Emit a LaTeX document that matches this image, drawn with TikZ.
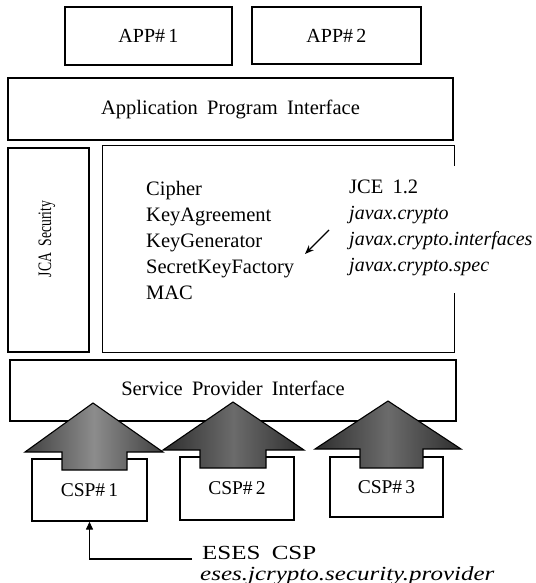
\documentclass[tikz,border=0pt]{standalone}
\usepackage{fontspec}
\usepackage{graphicx}
\setmainfont{Liberation Serif}[WordSpace=1.8]
\usetikzlibrary{arrows.meta}
\newcommand\myfs[1]{\fontsize{#1}{#1}\selectfont}
\begin{document}
\begin{tikzpicture}[x=1pt,y=-1pt,
  box/.style={draw, line width=1.3pt, inner sep=0pt, font=\myfs{20}},
  lbl/.style={inner sep=0pt, anchor=base west, font=\myfs{20.5}},
  ilbl/.style={inner sep=0pt, anchor=base west, font=\myfs{20}\itshape},
  house/.style={draw, line width=1.1pt, line join=miter, left color=black!82, right color=black!82, middle color=black!58},
  houselight/.style={house, left color=black!75, right color=black!75, middle color=black!45},
  conn/.style={line width=1.3pt, -{Stealth[length=9pt,width=7pt]}},
  eses/.style={inner sep=0pt, anchor=base west, font=\myfs{20}}]
\useasboundingbox (0,0) rectangle (535,583);

% top boxes
\node[box, minimum width=167pt, minimum height=58pt] (app1) at (148.5,36) {APP\#\,1};
\node[box, minimum width=169pt, minimum height=57pt] (app2) at (336.5,35.5) {APP\#\,2};
\node[box, minimum width=445pt, minimum height=62pt, font=\myfs{20.5}] (api) at (230.5,109) {Application Program Interface};

% JCA and JCE
\node[box, minimum width=81pt, minimum height=204pt] (jca) at (48.5,250) {};
\node[inner sep=0pt, rotate=90, font=\myfs{19}] (jcatxt) at (47,239) {\scalebox{0.72}[1]{JCA Security}};
\node[inner sep=0pt, minimum width=351pt, minimum height=206pt] (jce) at (278.5,249) {};
\draw[line width=1.3pt] ([yshift=-20pt]jce.north east) -- (jce.north east) -- (jce.north west)
  -- (jce.south west) -- (jce.south east) -- ([yshift=59pt]jce.south east);

\node[lbl] (c1) at (146,195) {Cipher};
\node[lbl] (c2) at (146,221) {KeyAgreement};
\node[lbl] (c3) at (146,247) {KeyGenerator};
\node[lbl] (c4) at (146,273) {SecretKeyFactory};
\node[lbl] (c5) at (146,299) {MAC};

\node[lbl] (j1) at (349,193) {JCE 1.2};
\node[ilbl] (j2) at (349,219) {javax.crypto};
\node[ilbl] (j3) at (349,245) {javax.crypto.interfaces};
\node[ilbl] (j4) at (349,271) {javax.crypto.spec};

\coordinate (pa) at (329,230);
\coordinate (pb) at (305,254);
\draw[conn] (pa) -- (pb);

% SPI
\node[box, minimum width=446pt, minimum height=61pt] (spi) at (233,390.5) {};
\node[inner sep=0pt, font=\myfs{20.5}] (spitxt) at (233,388) {Service Provider Interface};

% CSP boxes
\node[box, minimum width=115pt, minimum height=62pt, font=\myfs{19.5}] (csp1) at (89.5,490) {CSP\#\,1};
\node[box, minimum width=114pt, minimum height=63pt, font=\myfs{19.5}] (csp2) at (237,488.5) {CSP\#\,2};
\node[box, minimum width=113pt, minimum height=60pt, font=\myfs{19.5}] (csp3) at (386.5,487) {CSP\#\,3};

% house arrows
\shadedraw[houselight] (62,470) -- (62,452) -- (25,452) -- (93,403) -- (163,452) -- (127,452) -- (127,470) -- cycle;
\shadedraw[house] (200,468) -- (200,450) -- (163,450) -- (233,402) -- (304,450) -- (266,450) -- (266,468) -- cycle;
\shadedraw[house] (360,468) -- (360,449) -- (315,449) -- (388,401) -- (461,449) -- (423,449) -- (423,468) -- cycle;

% ESES
\node[eses] (e1) at (202,559) {\scalebox{1.25}[1]{ESES CSP}};
\node[eses] (e2) at (200,580) {\scalebox{1.25}[1]{\itshape eses.jcrypto.security.provider}};
\draw[line width=1.2pt, -{Triangle[length=8pt,width=7pt]}] ([xshift=-10pt]e1.base west) -| (csp1.south);
\end{tikzpicture}
\end{document}
